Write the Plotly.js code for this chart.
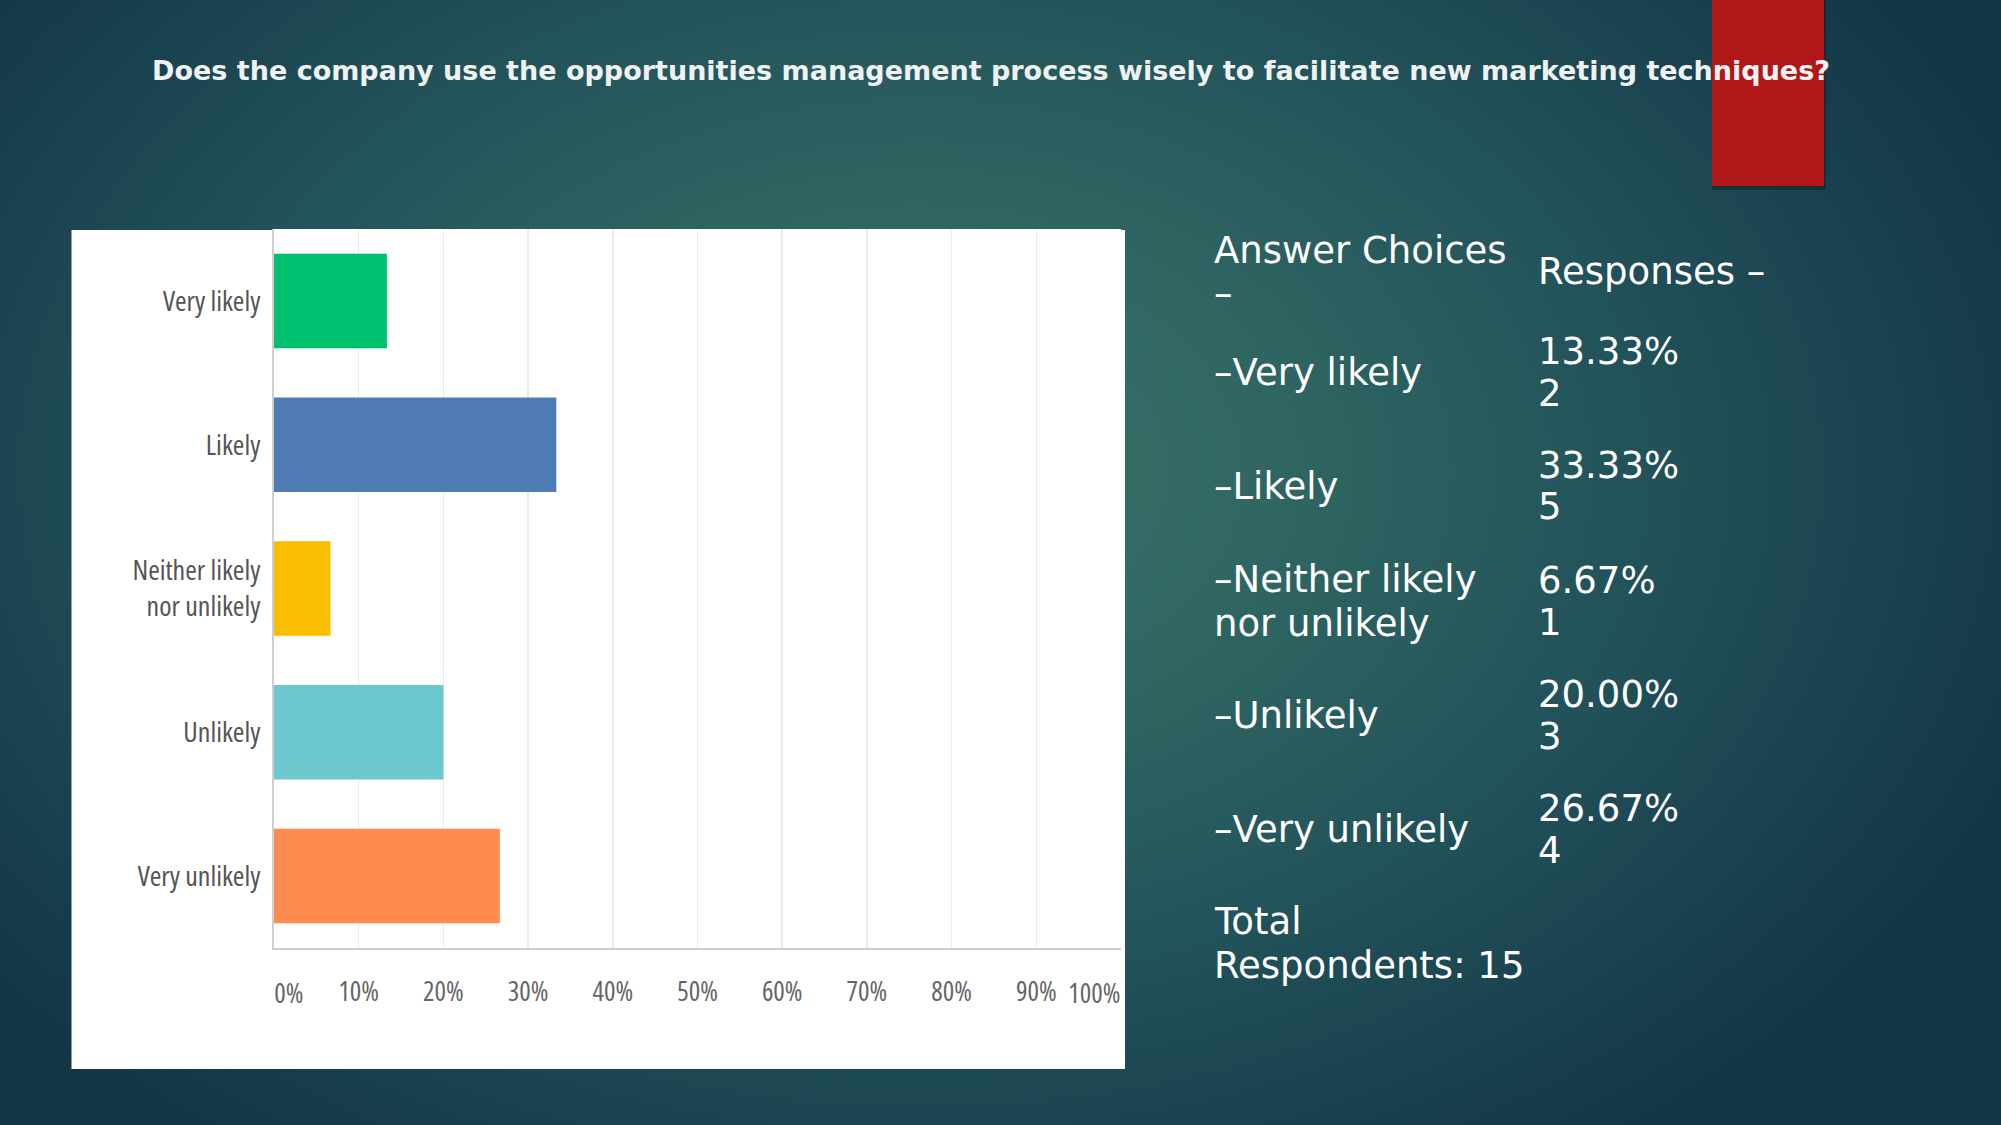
<!DOCTYPE html>
<html>
<head>
<meta charset="utf-8">
<script src="https://cdn.plot.ly/plotly-3.0.1.min.js"></script>
<style>
  html, body { margin: 0; padding: 0; }
  body {
    width: 2001px; height: 1125px; overflow: hidden;
    background: radial-gradient(ellipse 60% 75% at 46% 42%, #3b7467 0%, #2f6662 30%, #22525a 60%, #183f4e 85%, #133545 100%);
  }
  #chart { width: 2001px; height: 1125px; }
  #chart .xtick text, #chart .ytick text, #chart .cond text {
    font-stretch: 75% !important;
    font-variation-settings: "wdth" 75;
  }
</style>
</head>
<body>
<div id="chart"></div>
<script>
// ---- data ----
const categories = ["Very likely", "Likely", "Neither likely<br>nor unlikely", "Unlikely", "Very unlikely"];
const tableLabels = ["–Very likely", "–Likely", "–Neither likely", "–Unlikely", "–Very unlikely"];
const tableLabels2 = ["", "", "nor unlikely", "", ""];
const percents = [13.33, 33.33, 6.67, 20.00, 26.67];
const counts = [2, 5, 1, 3, 4];
const totalRespondents = 15;
const tickValues = [10, 20, 30, 40, 50, 60, 70, 80, 90];
const tickLabels = ["10%", "20%", "30%", "40%", "50%", "60%", "70%", "80%", "90%"];
const barColors = ["#00bf6f", "#507cb6", "#f9be00", "#6bc8cd", "#ff8b4f"];
const titleText = "Does the company use the opportunities management process wisely to facilitate new marketing techniques?";

// ---- layout geometry (pixels) ----
const W = 2001, H = 1125;
const plotL = 274, plotR = 1121, plotT = 229, plotB = 948;
const pw = plotR - plotL, ph = plotB - plotT;
const px = x => (x - plotL) / pw;
const py = y => (plotB - y) / ph;

const trace = {
  type: "bar",
  orientation: "h",
  y: categories,
  x: percents,
  marker: { color: barColors },
  hoverinfo: "none"
};

const condFamily = "Open Sans, DejaVu Sans Condensed, sans-serif";
const tableFont = { family: "DejaVu Sans, Verdana, sans-serif", size: 37, color: "#ffffff" };
const annotations = [];
function addText(text, x, y) {
  annotations.push({
    text: text, xref: "paper", yref: "paper", x: px(x), y: py(y),
    xanchor: "left", yanchor: "middle", showarrow: false, font: tableFont
  });
}
const leftX = 1212, rightX = 1536;
addText("Answer Choices", leftX, 250);
addText("–", leftX, 293);
addText("Responses –", rightX, 272);
const rowCenters = [372, 486, 601, 715, 829];
for (let i = 0; i < categories.length; i++) {
  const c = rowCenters[i];
  if (tableLabels2[i]) {
    addText(tableLabels[i], leftX, c - 22);
    addText(tableLabels2[i], leftX, c + 22);
  } else {
    addText(tableLabels[i], leftX, c);
  }
  addText(percents[i].toFixed(2) + "%", rightX, c - 21);
  addText(String(counts[i]), rightX, c + 21);
}
addText("Total", leftX, 921);
addText("Respondents: " + totalRespondents, leftX, 965);

// edge tick labels (shifted inward like the original)
const tickFont = { family: condFamily, size: 27, color: "#666666" };
annotations.push({ text: "0%", xref: "x", yref: "paper", x: 0, y: 0, yshift: -44, xshift: -6, xanchor: "left", yanchor: "middle", showarrow: false, font: tickFont });
annotations.push({ text: "100%", xref: "x", yref: "paper", x: 100, y: 0, yshift: -44, xshift: 10, xanchor: "right", yanchor: "middle", showarrow: false, font: tickFont });

const layout = {
  width: W, height: H,
  margin: { l: plotL, r: W - plotR, t: plotT, b: H - plotB, pad: 0 },
  paper_bgcolor: "rgba(0,0,0,0)",
  plot_bgcolor: "#ffffff",
  showlegend: false,
  bargap: 0.343,
  title: {
    text: "<b>" + titleText + "</b>",
    xref: "container", yref: "container",
    x: 991 / W, y: 1 - 71 / H, xanchor: "center", yanchor: "middle",
    font: { family: "DejaVu Sans, Verdana, sans-serif", size: 27, color: "#eef2f2" }
  },
  xaxis: {
    range: [0, 100],
    tickvals: tickValues, ticktext: tickLabels,
    showgrid: true, gridcolor: "#ebebeb", gridwidth: 1.5,
    zeroline: false,
    showline: true, linecolor: "#cfcfcf", linewidth: 2,
    ticks: "", ticklabelstandoff: 19,
    tickfont: tickFont,
    fixedrange: true
  },
  yaxis: {
    autorange: "reversed",
    showgrid: false, zeroline: false,
    showline: true, linecolor: "#cfcfcf", linewidth: 2,
    ticks: "", ticklabelstandoff: 6,
    tickfont: { family: condFamily, size: 28, color: "#555555" },
    fixedrange: true
  },
  shapes: [
    { type: "rect", xref: "paper", yref: "paper", layer: "below",
      x0: px(71.5), x1: px(1125), y0: py(1069), y1: py(230),
      fillcolor: "#ffffff", line: { width: 0 } },
    { type: "rect", xref: "paper", yref: "paper", layer: "below",
      x0: px(1712), x1: px(1826), y0: py(190), y1: py(0),
      fillcolor: "rgba(0,0,0,0.25)", line: { width: 0 } },
    { type: "rect", xref: "paper", yref: "paper", layer: "below",
      x0: px(1712), x1: px(1824), y0: py(186), y1: py(0),
      fillcolor: "#b01716", line: { width: 0 } }
  ],
  annotations: annotations
};

Plotly.newPlot("chart", [trace], layout, { displayModeBar: false, staticPlot: true }).then(function () {
  const anns = document.querySelectorAll("#chart .annotation");
  const n = anns.length;
  if (n >= 2) { anns[n - 1].classList.add("cond"); anns[n - 2].classList.add("cond"); }
});
</script>
</body>
</html>
